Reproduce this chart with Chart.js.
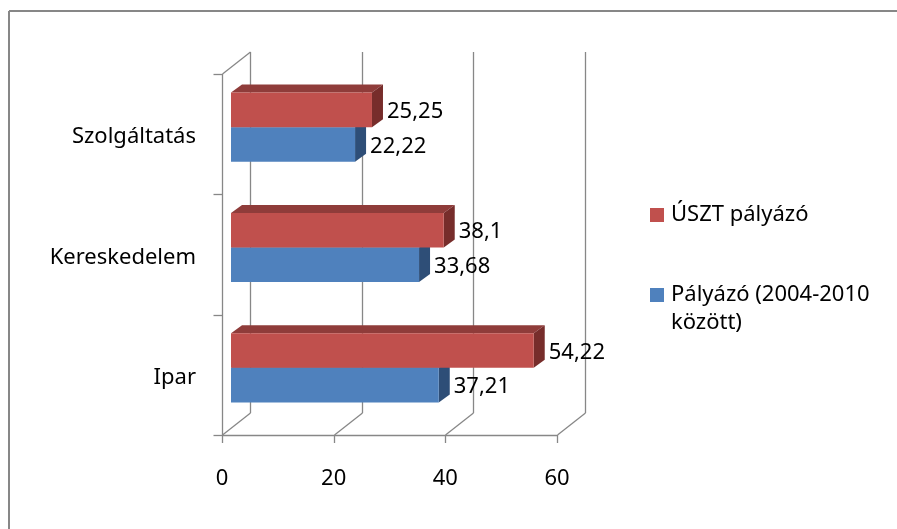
<!DOCTYPE html>
<html>
<head>
<meta charset="utf-8">
<script src="https://cdn.jsdelivr.net/npm/chart.js@4.4.1/dist/chart.umd.min.js"></script>
<style>
  html, body { margin: 0; padding: 0; background: #fff; }
  canvas { display: block; }
</style>
</head>
<body>
<canvas id="chart" width="897" height="529"></canvas>
<script>
const categories = ["Szolgáltatás", "Kereskedelem", "Ipar"];
const usztValues = [25.25, 38.1, 54.22];
const palyazoValues = [22.22, 33.68, 37.21];
const seriesNames = ["ÚSZT pályázó", "Pályázó (2004-2010 között)"];
const xTicks = [0, 20, 40, 60];

const FONT = "'Noto Sans', sans-serif";
const FONT_SIZE = 22;
const GRID = "#878787";
const DEPTH = { x: 28, y: -22 };      // walls and floor
const BAR_SHIFT = { x: 9, y: -7 };    // bars sit a third of the way back
const BAR_DEPTH = { x: 11, y: -8 };
const faces = [
  { front: "#C0504D", top: "#8F3C3A", side: "#772D2B" },
  { front: "#4F81BD", top: "#3B6190", side: "#2E4E77" }
];

function line(ctx, x1, y1, x2, y2) {
  ctx.beginPath();
  ctx.moveTo(x1, y1);
  ctx.lineTo(x2, y2);
  ctx.stroke();
}

function poly(ctx, pts, color) {
  ctx.beginPath();
  ctx.moveTo(pts[0][0], pts[0][1]);
  for (let i = 1; i < pts.length; i++) ctx.lineTo(pts[i][0], pts[i][1]);
  ctx.closePath();
  ctx.fillStyle = color;
  ctx.fill();
}

const fmt = (v) => String(v).replace(".", ",");

const box3d = {
  id: "box3d",
  beforeDraw(chart) {
    // only the top and left edges of the frame are in the picture
    const ctx = chart.ctx;
    ctx.save();
    ctx.strokeStyle = GRID;
    ctx.lineWidth = 2;
    line(ctx, 9, chart.height, 9, 11);
    line(ctx, 9, 11, chart.width, 11);
    ctx.restore();
  },
  beforeDatasetsDraw(chart) {
    const ctx = chart.ctx;
    const area = chart.chartArea;
    const xs = chart.scales.x;
    const ys = chart.scales.y;
    ctx.save();
    ctx.strokeStyle = GRID;
    ctx.lineWidth = 1.3;

    // back wall gridlines, floor lines, tick marks
    xTicks.forEach((t) => {
      const px = Math.round(xs.getPixelForValue(t)) + 0.5;
      line(ctx, px + DEPTH.x, area.top + DEPTH.y, px + DEPTH.x, area.bottom + DEPTH.y);
      line(ctx, px, area.bottom, px + DEPTH.x, area.bottom + DEPTH.y);
      line(ctx, px, area.bottom, px, area.bottom + 8);
    });
    line(ctx, area.left, area.bottom + 0.5, xs.getPixelForValue(xTicks[xTicks.length - 1]), area.bottom + 0.5);

    // left wall
    const lx = Math.round(area.left) + 0.5;
    line(ctx, lx, area.top, lx, area.bottom);
    line(ctx, lx, area.top, lx + DEPTH.x, area.top + DEPTH.y);
    const bounds = [area.top];
    for (let i = 0; i < categories.length - 1; i++) {
      bounds.push((ys.getPixelForValue(i) + ys.getPixelForValue(i + 1)) / 2);
    }
    bounds.push(area.bottom);
    bounds.forEach((b) => line(ctx, lx - 9, Math.round(b) + 0.5, lx, Math.round(b) + 0.5));

    // depth faces of the bars, lower series first
    ctx.translate(BAR_SHIFT.x, BAR_SHIFT.y);
    for (let d = chart.data.datasets.length - 1; d >= 0; d--) {
      const f = faces[d];
      chart.getDatasetMeta(d).data.forEach((el) => {
        const p = el.getProps(["x", "y", "base", "height"], true);
        const top = p.y - p.height / 2;
        const bot = p.y + p.height / 2;
        const dx = BAR_DEPTH.x, dy = BAR_DEPTH.y;
        poly(ctx, [[p.base, top], [p.base + dx, top + dy], [p.x + dx, top + dy], [p.x, top]], f.top);
        poly(ctx, [[p.x, top], [p.x + dx, top + dy], [p.x + dx, bot + dy], [p.x, bot]], f.side);
      });
    }
    ctx.restore();

    // the library draws the front faces, shifted back the same way
    ctx.save();
    ctx.translate(BAR_SHIFT.x, BAR_SHIFT.y);
  },
  afterDatasetsDraw(chart) {
    const ctx = chart.ctx;
    ctx.restore();

    ctx.save();
    ctx.font = FONT_SIZE + "px " + FONT;
    ctx.fillStyle = "#000";
    ctx.textBaseline = "middle";
    ctx.textAlign = "left";
    chart.data.datasets.forEach((ds, d) => {
      chart.getDatasetMeta(d).data.forEach((el, i) => {
        const p = el.getProps(["x", "y"], true);
        ctx.fillText(fmt(ds.data[i]), p.x + BAR_SHIFT.x + BAR_DEPTH.x + 4, p.y + BAR_SHIFT.y + 2);
      });
    });
    ctx.restore();
  },
  afterDraw(chart) {
    const ctx = chart.ctx;
    ctx.save();
    ctx.font = FONT_SIZE + "px " + FONT;
    ctx.textBaseline = "middle";
    ctx.textAlign = "left";
    const legendX = 650, maxW = 225, lineH = 28;
    const rows = [215, 295];
    chart.data.datasets.forEach((ds, d) => {
      const y = rows[d];
      ctx.fillStyle = ds.backgroundColor;
      ctx.fillRect(legendX, y - 7, 14, 14);
      ctx.fillStyle = "#000";
      const words = ds.label.split(" ");
      let cur = "", ly = y;
      words.forEach((w) => {
        const test = cur ? cur + " " + w : w;
        if (cur && ctx.measureText(test).width > maxW) {
          ctx.fillText(cur, legendX + 21, ly);
          ly += lineH;
          cur = w;
        } else {
          cur = test;
        }
      });
      ctx.fillText(cur, legendX + 21, ly);
    });
    ctx.restore();
  }
};

new Chart(document.getElementById("chart"), {
  type: "bar",
  data: {
    labels: categories,
    datasets: [
      { label: seriesNames[0], data: usztValues, backgroundColor: faces[0].front, clip: false },
      { label: seriesNames[1], data: palyazoValues, backgroundColor: faces[1].front, clip: false }
    ]
  },
  options: {
    indexAxis: "y",
    responsive: false,
    animation: false,
    events: [],
    categoryPercentage: 0.575,
    barPercentage: 1,
    layout: { padding: { top: 74, right: 340, left: 0, bottom: 0 } },
    plugins: { legend: { display: false }, tooltip: { enabled: false } },
    scales: {
      x: {
        min: 0,
        max: 60,
        afterBuildTicks: (scale) => { scale.ticks = xTicks.map((v) => ({ value: v })); },
        afterFit: (scale) => { scale.height = 94; },
        grid: { display: false },
        border: { display: false },
        ticks: { padding: 23, color: "#000", font: { family: FONT, size: FONT_SIZE } }
      },
      y: {
        afterFit: (scale) => { scale.width = 222; },
        grid: { display: false },
        border: { display: false },
        ticks: { padding: 18, labelOffset: 3, color: "#000", font: { family: FONT, size: FONT_SIZE } }
      }
    }
  },
  plugins: [box3d]
});
</script>
</body>
</html>
